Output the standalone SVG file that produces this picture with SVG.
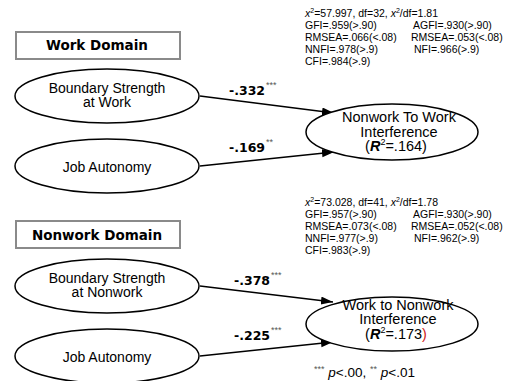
<svg xmlns="http://www.w3.org/2000/svg" width="505" height="381" viewBox="0 0 505 381">
  <style>
    .bg { fill: #ffffff; }
    .domain { fill: #ffffff; stroke: #8a8a8a; stroke-width: 2; }
    .domain-label { font-family: "DejaVu Sans", "Liberation Sans", sans-serif; font-weight: bold; font-size: 13.5px; fill: #000; text-anchor: middle; }
    .construct { fill: #ffffff; stroke: #000; stroke-width: 1.5; }
    .node-label { font-family: "Liberation Sans", Arial, sans-serif; font-size: 14px; fill: #000; text-anchor: middle; }
    .outcome-label { font-family: "Liberation Sans", Arial, sans-serif; font-size: 14.5px; fill: #000; text-anchor: middle; }
    .path-line { stroke: #000; stroke-width: 1.5; fill: none; marker-end: url(#arrow); }
    .coef { font-family: "DejaVu Sans", "Liberation Sans", sans-serif; font-weight: bold; font-size: 12.5px; fill: #000; }
    .sig { font-family: "Liberation Sans", Arial, sans-serif; font-weight: normal; font-size: 9px; fill: #555; }
    .fit { font-family: "Liberation Sans", Arial, sans-serif; font-size: 10.5px; fill: #000; }
    .note { font-family: "Liberation Sans", Arial, sans-serif; font-size: 13.5px; fill: #000; }
  </style>
  <defs>
    <marker id="arrow" markerUnits="userSpaceOnUse" markerWidth="13" markerHeight="9" refX="12" refY="4" orient="auto">
      <path d="M0,0 L12,4 L0,8 z" fill="#000"/>
    </marker>
  </defs>

  <rect class="bg" x="0" y="0" width="505" height="381"/>

  <!-- structural paths -->
  <g id="connectors">
    <line class="path-line" x1="200" y1="96" x2="334" y2="113"/>
    <line class="path-line" x1="200" y1="166" x2="334" y2="152"/>
    <line class="path-line" x1="200" y1="286" x2="333" y2="302"/>
    <line class="path-line" x1="200" y1="356" x2="333" y2="342"/>
  </g>

  <!-- path coefficients -->
  <g id="coefficients">
    <text class="coef" x="229" y="95">-.332<tspan class="sig" dx="1" dy="-7">***</tspan></text>
    <text class="coef" x="229" y="152">-.169<tspan class="sig" dx="1" dy="-7">**</tspan></text>
    <text class="coef" x="234" y="285">-.378<tspan class="sig" dx="1" dy="-7">***</tspan></text>
    <text class="coef" x="234" y="340">-.225<tspan class="sig" dx="1" dy="-7">***</tspan></text>
  </g>

  <!-- work domain model -->
  <g id="work-domain">
    <rect class="domain" x="16" y="32" width="164" height="27"/>
    <text class="domain-label" x="97" y="50">Work Domain</text>
  </g>
  <g id="boundary-work">
    <ellipse class="construct" cx="107" cy="96" rx="92" ry="27"/>
    <text class="node-label" x="107" y="93">Boundary Strength</text>
    <text class="node-label" x="107" y="107">at Work</text>
  </g>
  <g id="job-autonomy-work">
    <ellipse class="construct" cx="107" cy="166" rx="92" ry="27"/>
    <text class="node-label" x="107" y="172">Job Autonomy</text>
  </g>
  <g id="nonwork-to-work">
    <ellipse class="construct" cx="392" cy="132" rx="86" ry="28"/>
    <text class="outcome-label" x="399" y="122">Nonwork To Work</text>
    <text class="outcome-label" x="399" y="137">Interference</text>
    <text class="outcome-label" x="396" y="151">(<tspan font-weight="bold" font-style="italic">R</tspan><tspan font-size="9" dy="-6">2</tspan><tspan dy="6">=.164)</tspan></text>
  </g>
  <g id="fit-work">
    <text class="fit" x="305" y="17"><tspan font-style="italic">x</tspan><tspan font-size="7" dy="-4">2</tspan><tspan dy="4">=57.997, df=32, </tspan><tspan font-style="italic">x</tspan><tspan font-size="7" dy="-4">2</tspan><tspan dy="4">/df=1.81</tspan></text>
    <text class="fit" x="305" y="29">GFI=.959(&gt;.90)</text>
    <text class="fit" x="413" y="29">AGFI=.930(&gt;.90)</text>
    <text class="fit" x="305" y="41">RMSEA=.066(&lt;.08)</text>
    <text class="fit" x="411" y="41">RMSEA=.053(&lt;.08)</text>
    <text class="fit" x="305" y="53">NNFI=.978(&gt;.9)</text>
    <text class="fit" x="414" y="53">NFI=.966(&gt;.9)</text>
    <text class="fit" x="305" y="65">CFI=.984(&gt;.9)</text>
  </g>

  <!-- nonwork domain model -->
  <g id="nonwork-domain">
    <rect class="domain" x="16" y="221" width="164" height="27"/>
    <text class="domain-label" x="97" y="240">Nonwork Domain</text>
  </g>
  <g id="boundary-nonwork">
    <ellipse class="construct" cx="107" cy="286" rx="92" ry="27"/>
    <text class="node-label" x="107" y="283">Boundary Strength</text>
    <text class="node-label" x="107" y="297">at Nonwork</text>
  </g>
  <g id="job-autonomy-nonwork">
    <ellipse class="construct" cx="107" cy="356" rx="92" ry="27"/>
    <text class="node-label" x="107" y="362">Job Autonomy</text>
  </g>
  <g id="work-to-nonwork">
    <ellipse class="construct" cx="392" cy="324" rx="86" ry="27"/>
    <text class="outcome-label" x="398" y="310">Work to Nonwork</text>
    <text class="outcome-label" x="398" y="324">Interference</text>
    <text class="outcome-label" x="396" y="339">(<tspan font-weight="bold" font-style="italic">R</tspan><tspan font-size="9" dy="-6">2</tspan><tspan dy="6">=.173</tspan><tspan fill="#d02020">)</tspan></text>
  </g>
  <g id="fit-nonwork">
    <text class="fit" x="305" y="206"><tspan font-style="italic">x</tspan><tspan font-size="7" dy="-4">2</tspan><tspan dy="4">=73.028, df=41, </tspan><tspan font-style="italic">x</tspan><tspan font-size="7" dy="-4">2</tspan><tspan dy="4">/df=1.78</tspan></text>
    <text class="fit" x="305" y="218">GFI=.957(&gt;.90)</text>
    <text class="fit" x="413" y="218">AGFI=.930(&gt;.90)</text>
    <text class="fit" x="305" y="230">RMSEA=.073(&lt;.08)</text>
    <text class="fit" x="411" y="230">RMSEA=.052(&lt;.08)</text>
    <text class="fit" x="305" y="242">NNFI=.977(&gt;.9)</text>
    <text class="fit" x="414" y="242">NFI=.962(&gt;.9)</text>
    <text class="fit" x="305" y="254">CFI=.983(&gt;.9)</text>
  </g>

  <!-- significance legend -->
  <text class="note" x="314" y="377"><tspan font-size="9" dy="-5" fill="#555">***</tspan><tspan dy="5"> </tspan><tspan font-style="italic">p</tspan>&lt;.00, <tspan font-size="9" dy="-5" fill="#555">**</tspan><tspan dy="5"> </tspan><tspan font-style="italic">p</tspan>&lt;.01</text>
</svg>
